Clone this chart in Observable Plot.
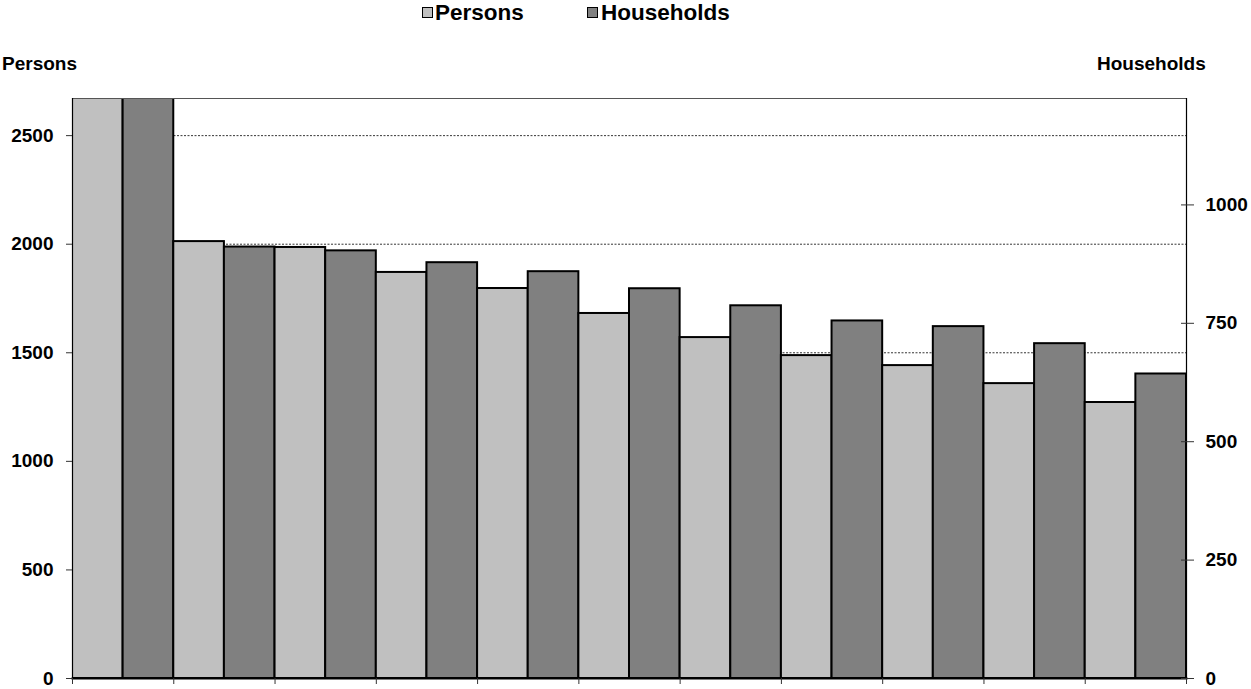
<!DOCTYPE html>
<html>
<head>
<meta charset="utf-8">
<script src="https://cdn.jsdelivr.net/npm/d3@7"></script>
<script src="https://cdn.jsdelivr.net/npm/@observablehq/plot@0.6"></script>
<style>
  html, body { margin: 0; padding: 0; background: #fff; }
  #wrap { position: relative; width: 1251px; height: 689px; font-family: "Liberation Sans", Arial, sans-serif; font-weight: bold; color: #000; }
  #wrap svg { position: absolute; left: 0; top: 0; }
  .lbl { position: absolute; line-height: 1; white-space: nowrap; }
  .sw { position: absolute; width: 9px; height: 9px; border: 1.5px solid #000; }
</style>
</head>
<body>
<div id="wrap">
  <div class="sw" style="left:422px;top:7px;background:#C0C0C0"></div>
  <div class="lbl" style="left:435px;top:1.5px;font-size:22.5px">Persons</div>
  <div class="sw" style="left:587px;top:7px;background:#808080"></div>
  <div class="lbl" style="left:601px;top:1.5px;font-size:22.5px">Households</div>
  <div class="lbl" style="left:2px;top:54px;font-size:19px">Persons</div>
  <div class="lbl" style="left:1097px;top:54px;font-size:19px">Households</div>
</div>
<script>
// ---- data ----
const categories = ["1", "2", "3", "4", "5", "6", "7", "8", "9", "10", "11"];
const persons    = [3100, 2012, 1985, 1870, 1796, 1681, 1570, 1487, 1441, 1358, 1271];
const households = [1420, 911, 903, 878, 859, 823, 787, 755, 743, 707, 643];
const seriesNames = ["Persons", "Households"];
const personTicks = [0, 500, 1000, 1500, 2000, 2500];
const householdTicks = [0, 250, 500, 750, 1000];
const personsMax = 2671;
const householdsMax = 1224.7;

// ---- build ----
const k = personsMax / householdsMax;
const rows = categories.flatMap((c, i) => [
  {cat: c, x1: i, x2: i + 0.5, v: persons[i], series: seriesNames[0]},
  {cat: c, x1: i + 0.5, x2: i + 1, v: households[i] * k, series: seriesNames[1]}
]);
const hhTickPos = householdTicks.map(v => v * k);

const chart = Plot.plot({
  width: 1251,
  height: 689,
  marginTop: 98,
  marginLeft: 72,
  marginRight: 65,
  marginBottom: 11,
  x: {domain: [0, categories.length]},
  y: {domain: [0, personsMax]},
  color: {domain: seriesNames, range: ["#C0C0C0", "#808080"]},
  style: {fontFamily: "'Liberation Sans', Arial, sans-serif", fontSize: "19px", fontWeight: "bold", color: "#000", background: "transparent"},
  marks: [
    Plot.ruleY(personTicks.filter(d => d > 0), {stroke: "#000", strokeWidth: 0.8, strokeDasharray: "2,1.5"}),
    Plot.rectY(rows, {x1: "x1", x2: "x2", y: "v", fill: "series", stroke: "#000", strokeWidth: 2, clip: true}),
    Plot.frame({anchor: "top", stroke: "#555", strokeWidth: 1}),
    Plot.frame({anchor: "right", stroke: "#000", strokeWidth: 1.2}),
    Plot.frame({anchor: "left", stroke: "#000", strokeWidth: 1.2}),
    Plot.frame({anchor: "bottom", stroke: "#000", strokeWidth: 2}),
    Plot.axisY(personTicks, {anchor: "left", tickSize: 6, tickPadding: 13, label: null, stroke: "#333", tickFormat: d => String(d)}),
    Plot.axisY(hhTickPos, {anchor: "right", tickSize: 13, dx: -6, fill: "none", label: null, stroke: "#333"}),
    Plot.axisY(hhTickPos, {anchor: "right", tickSize: 0, tickPadding: 19, label: null, tickFormat: d => String(Math.round(d / k))}),
    Plot.axisX(d3.range(categories.length + 1), {anchor: "bottom", tickSize: 6, tickFormat: () => "", label: null, stroke: "#333"})
  ]
});
document.getElementById("wrap").prepend(chart);
</script>
</body>
</html>
